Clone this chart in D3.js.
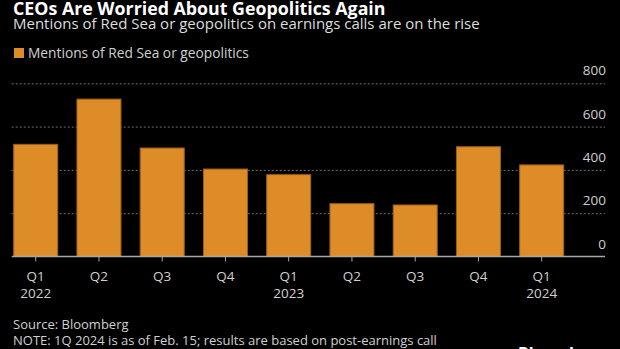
<!DOCTYPE html>
<meta charset="utf-8">
<style>

body {
  margin: 0;
  background: #000;
}

svg {
  display: block;
  background: #000;
  font-family: "Open Sans", Roboto, sans-serif;
}

.bar {
  fill: #de8c27;
  stroke: #9a5f1c;
  stroke-width: 1;
}

.grid line {
  stroke: #6e6e6e;
  stroke-dasharray: 2,2;
}

.axis text {
  fill: #d0d0d0;
  font-size: 13.5px;
}

</style>
<svg width="620" height="349"></svg>
<script src="https://d3js.org/d3.v7.min.js"></script>
<script>

// quarterly counts of earnings-call mentions
var quarters = ["Q1", "Q2", "Q3", "Q4", "Q1", "Q2", "Q3", "Q4", "Q1"];
var years = ["2022", "", "", "", "2023", "", "", "", "2024"];
var mentions = [518, 727, 501, 404, 378, 244, 238, 507, 423];
var yTicks = [0, 200, 400, 600, 800];

var svg = d3.select("svg"),
    plotLeft = 13.7, plotRight = 605,
    plotTop = 83.3, plotBottom = 256.5;

var data = quarters.map(function(q, i) {
  return {key: i, quarter: q, year: years[i], value: mentions[i]};
});

var x = d3.scaleBand()
    .domain(data.map(function(d) { return d.key; }))
    .range([plotLeft, 563.7])
    .paddingInner(0.304)
    .paddingOuter(0);

var y = d3.scaleLinear()
    .domain([0, 800])
    .range([plotBottom, plotTop]);

// title block
svg.append("text")
    .attr("x", 13)
    .attr("y", 14.5)
    .attr("fill", "#fff")
    .attr("font-size", "17.8px")
    .attr("font-weight", "bold")
    .text("CEOs Are Worried About Geopolitics Again");

svg.append("text")
    .attr("x", 13)
    .attr("y", 28.5)
    .attr("fill", "#dedede")
    .attr("font-size", "15px")
    .text("Mentions of Red Sea or geopolitics on earnings calls are on the rise");

// legend
svg.append("rect")
    .attr("x", 14)
    .attr("y", 48)
    .attr("width", 10)
    .attr("height", 10)
    .attr("fill", "#de8c27");

svg.append("text")
    .attr("x", 28)
    .attr("y", 57.5)
    .attr("fill", "#d0d0d0")
    .attr("font-size", "13.75px")
    .text("Mentions of Red Sea or geopolitics");

// dotted gridlines with labels sitting above them
var grid = svg.append("g").attr("class", "grid");

grid.selectAll("line")
    .data(yTicks.filter(function(t) { return t > 0; }))
    .enter().append("line")
    .attr("x1", plotLeft - 2)
    .attr("x2", plotRight)
    .attr("y1", function(d) { return y(d) + 0.5; })
    .attr("y2", function(d) { return y(d) + 0.5; });

svg.append("g")
    .attr("class", "axis")
    .selectAll("text")
    .data(yTicks)
    .enter().append("text")
    .attr("x", plotRight + 1)
    .attr("y", function(d) { return y(d) - 8; })
    .attr("text-anchor", "end")
    .text(function(d) { return d; });

// bars
svg.selectAll(".bar")
    .data(data)
    .enter().append("rect")
    .attr("class", "bar")
    .attr("x", function(d) { return x(d.key); })
    .attr("y", function(d) { return y(d.value); })
    .attr("width", x.bandwidth())
    .attr("height", function(d) { return y(0) - y(d.value); });

// x axis: baseline, ticks and two-line labels
var xAxis = svg.append("g")
    .attr("transform", "translate(0," + plotBottom + ")")
    .call(d3.axisBottom(x).tickSize(5).tickFormat(""));

xAxis.select(".domain")
    .attr("d", "M" + (plotLeft - 2) + ",0H" + plotRight)
    .attr("stroke", "#a8a8a8")
    .attr("stroke-width", 1.5);

xAxis.selectAll(".tick line")
    .attr("stroke", "#a8a8a8");

var labels = svg.append("g").attr("class", "axis");

labels.selectAll(".q")
    .data(data)
    .enter().append("text")
    .attr("class", "q")
    .attr("x", function(d) { return x(d.key) + x.bandwidth() / 2; })
    .attr("y", 281)
    .attr("text-anchor", "middle")
    .text(function(d) { return d.quarter; });

labels.selectAll(".yr")
    .data(data.filter(function(d) { return d.year; }))
    .enter().append("text")
    .attr("class", "yr")
    .attr("x", function(d) { return x(d.key) + x.bandwidth() / 2; })
    .attr("y", 297.5)
    .attr("text-anchor", "middle")
    .text(function(d) { return d.year; });

// footer
var notes = [
  "Source: Bloomberg",
  "NOTE: 1Q 2024 is as of Feb. 15; results are based on post-earnings call",
  "transcripts of S&P 500 and Stoxx 600 firms"
];

svg.append("g").selectAll("text")
    .data(notes)
    .enter().append("text")
    .attr("x", 13)
    .attr("y", function(d, i) { return 329 + i * 15.5; })
    .attr("fill", "#d0d0d0")
    .attr("font-size", "13px")
    .text(function(d) { return d; });

svg.append("text")
    .attr("x", 605)
    .attr("y", 359)
    .attr("text-anchor", "end")
    .attr("fill", "#fff")
    .attr("font-size", "16px")
    .attr("font-weight", "bold")
    .text("Bloomberg");

</script>
